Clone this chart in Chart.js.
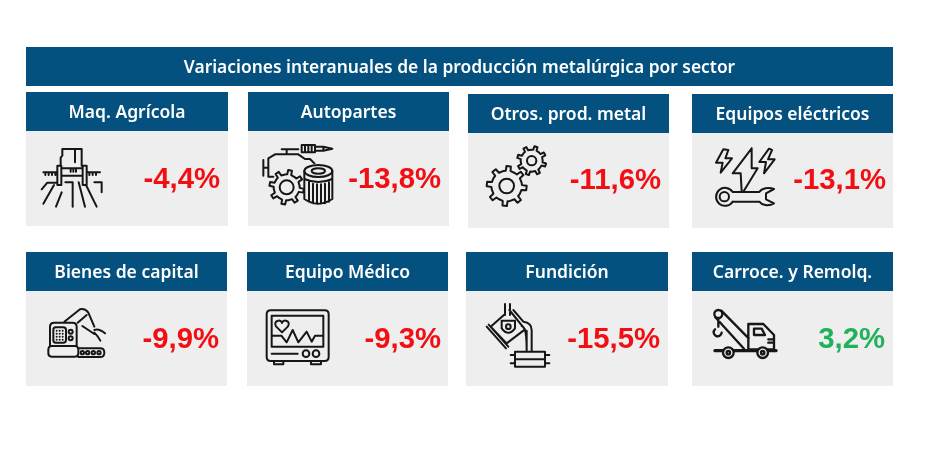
<!DOCTYPE html>
<html lang="es">
<head>
<meta charset="utf-8">
<title>Variaciones interanuales</title>
<style>
  html, body { margin: 0; padding: 0; background: #fff; }
  canvas { display: block; }
</style>
<script src="https://cdn.jsdelivr.net/npm/chart.js@4"></script>
</head>
<body>
<canvas id="chart" width="926" height="456" style="width:926px;height:456px"></canvas>
<script>
// Data
var chartTitle = 'Variaciones interanuales de la producción metalúrgica por sector';
var categories = ['Maq. Agrícola', 'Autopartes', 'Otros. prod. metal', 'Equipos eléctricos',
                  'Bienes de capital', 'Equipo Médico', 'Fundición', 'Carroce. y Remolq.'];
var variations = [-4.4, -13.8, -11.6, -13.1, -9.9, -9.3, -15.5, 3.2];

// Card layout, same order as categories: left, right, top, header bottom, body bottom
var cardBoxes = [
    [26, 228, 92, 131, 226], [248, 449, 92, 131, 226], [468, 669, 94, 133, 228], [692, 893, 94, 133, 228],
    [26, 227, 252, 291, 386], [247, 448, 252, 291, 386], [466, 668, 252, 291, 386], [692, 893, 252, 291, 386]
];
var valueRight = [220, 441, 661, 886, 219, 441, 660, 885];
var valueMiddle = [180, 180, 181, 181, 340, 340, 340, 340];

var NAVY = '#04507f';
var CARD = '#eeeeee';
var INK = '#161616';

function gear(ctx, cx, cy, outer, inner, hole, teeth, rot) {
    var step = Math.PI * 2 / teeth;
    ctx.beginPath();
    for (var i = 0; i < teeth; i++) {
        var a = rot + i * step;
        var w = step * 0.2;
        var pts = [[a - step / 2 + w * 0.4, inner], [a - w, inner], [a - w * 0.7, outer], [a + w * 0.7, outer], [a + w, inner]];
        pts.forEach(function (p, j) {
            var x = cx + Math.cos(p[0]) * p[1];
            var y = cy + Math.sin(p[0]) * p[1];
            if (i === 0 && j === 0) ctx.moveTo(x, y); else ctx.lineTo(x, y);
        });
    }
    ctx.closePath();
    ctx.stroke();
    ctx.beginPath();
    ctx.arc(cx, cy, hole, 0, Math.PI * 2);
    ctx.stroke();
}

function stroke(ctx, d) { ctx.stroke(new Path2D(d)); }
function ring(ctx, x, y, r) { ctx.beginPath(); ctx.arc(x, y, r, 0, Math.PI * 2); ctx.stroke(); }
function dot(ctx, x, y, r) { ctx.beginPath(); ctx.arc(x, y, r, 0, Math.PI * 2); ctx.fill(); }

// Icons are drawn in 3x zoomed units from the origin given in iconOrigins
var iconDraw = [
    function (ctx) { // tractor
        stroke(ctx, 'M97 42H155M135 42V82M155 42V92M97 42V62L92 68V92M82 92H94V150H82ZM158 92H170V150H158Z' +
            'M40 112H82M170 112H210M94 100H158M94 122H158M46 112V120M56 112V120M66 112V120M76 112V120' +
            'M178 112V120M188 112V120M198 112V120M122 100V110M130 100V110M138 100V110' +
            'M35 163L52 143H78M40 206L72 150M78 215L95 172M106 142H128V215M146 142L165 215M168 150L200 215M193 142H215V172');
    },
    function (ctx) { // engine, gear and filter
        stroke(ctx, 'M25 75V122M25 98H40M40 70V125H55M40 70L60 58H130L150 72H165L185 92M95 58V44M80 43H130');
        stroke(ctx, 'M140 30H180V52H140ZM150 30V52M160 30V52M170 30V52M180 35H205V47H180M205 35L232 41L205 47');
        gear(ctx, 95, 157, 52, 39, 21, 8, 0.2);
        ctx.save();
        ctx.fillStyle = CARD;
        ctx.beginPath(); ctx.ellipse(190, 150, 44, 66, 0, 0, Math.PI * 2); ctx.fill();
        ctx.restore();
        stroke(ctx, 'M148 108V192Q190 220 232 192V108M148 132Q190 150 232 132M162 142V200M174 146V205M186 148V207M198 148V207M210 146V205M222 142V200');
        ctx.beginPath(); ctx.ellipse(190, 108, 42, 18, 0, 0, Math.PI * 2); ctx.stroke();
        ctx.beginPath(); ctx.ellipse(190, 108, 20, 8, 0, 0, Math.PI * 2); ctx.stroke();
    },
    function (ctx) { // two gears, units from the 460,40 crop
        gear(ctx, 140, 438, 60, 46, 22, 8, 0.1);
        gear(ctx, 215, 362, 44, 33, 14, 8, 0.3);
    },
    function (ctx) { // bolts and wrench
        stroke(ctx, 'M70 28L48 68H68L62 98L96 55H76L85 30ZM207 26L178 66H198L192 100L224 58H204L216 30Z' +
            'M155 25L98 100H122L125 155M155 25V85H173L130 155');
        ring(ctx, 73, 170, 14);
        stroke(ctx, 'M98 156H178C185 145 205 140 222 147L198 160V178L222 190C205 200 185 195 178 185H98' +
            'M98 156A27 27 0 1 0 98 185');
    },
    function (ctx) { // robot arm on a conveyor
        stroke(ctx, 'M58 68H112Q125 68 125 80V138H45V80Q45 68 58 68ZM62 82H85Q93 82 93 90V120Q93 128 85 128H62Q55 128 55 120V90Q55 82 62 82Z' +
            'M50 138H120Q130 138 130 150V160Q130 170 120 170H50Q40 170 40 160V150Q40 138 50 138Z' +
            'M130 145H195Q208 145 208 158Q208 171 195 171H130' +
            'M88 65L135 28Q150 24 160 38L178 80M128 68L155 45M142 78L178 102M178 90Q192 85 210 100M178 98Q190 110 196 122');
        ring(ctx, 107, 95, 6); ring(ctx, 107, 115, 6);
        [142, 158, 175, 192].forEach(function (x) { ring(ctx, x, 158, 5); });
        [65, 74, 83].forEach(function (x) {
            [92, 101, 110, 119].forEach(function (y) { dot(ctx, x, y, 3); });
        });
    },
    function (ctx) { // monitor, units from the 20,245 crop
        stroke(ctx, 'M752 196H914Q926 196 926 208V336Q926 348 914 348H752Q740 348 740 336V208Q740 196 752 196Z' +
            'M755 212H910V305H755ZM755 272H784L800 292L818 255L835 292L860 260L875 290L885 272H910' +
            'M755 326H833M762 348V358H790V348M873 348V358H903V348' +
            'M786 262L768 244Q762 232 772 228Q782 224 786 234Q790 224 800 228Q810 232 804 244Z');
        ring(ctx, 858, 326, 10); ring(ctx, 888, 326, 10);
    },
    function (ctx) { // foundry ladle, units from the 480,300 crop
        stroke(ctx, 'M75 12V45M90 12V45M88 30L135 88L80 130L32 80L75 42M20 80L78 145M26 74L85 140' +
            'M65 62H105V85Q85 112 65 85ZM100 30L130 65Q155 68 155 90V155M140 92V155Q140 78 125 78' +
            'M105 155H195V200H105ZM105 178H195M92 165H105M92 190H105M195 165H208M195 190H208');
        ring(ctx, 85, 80, 7);
    },
    function (ctx) { // tow truck, units from the 700,300 crop
        ctx.lineWidth = 7;
        ring(ctx, 55, 42, 12);
        stroke(ctx, 'M64 32L146 115M46 52L132 146M55 55V80M65 98A12 12 0 1 1 45 88' +
            'M145 72H190L222 105V148H145ZM162 86H185L195 105H162ZM205 118H220M205 128H216');
        ctx.save();
        ctx.lineWidth = 10;
        stroke(ctx, 'M45 152H228');
        ctx.restore();
        [[85, 158], [188, 158]].forEach(function (w) {
            ctx.save();
            ctx.fillStyle = CARD;
            ctx.beginPath(); ctx.arc(w[0], w[1], 16, 0, Math.PI * 2); ctx.fill(); ctx.stroke();
            ctx.restore();
            ring(ctx, w[0], w[1], 5);
        });
    }
];
var iconOrigins = [[30, 135], [255, 135], [460, 40], [700, 140], [35, 300], [20, 245], [480, 300], [700, 300]];

var cardsPlugin = {
    id: 'cards',
    afterDatasetsDraw: function (chart) {
        var ctx = chart.ctx;
        ctx.save();
        ctx.textAlign = 'center';
        ctx.textBaseline = 'middle';

        ctx.fillStyle = NAVY;
        ctx.fillRect(26, 47, 867, 39);
        ctx.fillStyle = '#fff';
        ctx.font = '600 17.4px "Noto Sans"';
        ctx.fillText(chartTitle, 459.5, 68.5);

        chart.data.labels.forEach(function (label, i) {
            var box = cardBoxes[i];
            var mid = (box[0] + box[1]) / 2;
            ctx.fillStyle = CARD;
            ctx.fillRect(box[0], box[3], box[1] - box[0], box[4] - box[3]);
            ctx.fillStyle = NAVY;
            ctx.fillRect(box[0], box[2], box[1] - box[0], box[3] - box[2]);
            ctx.fillStyle = '#fff';
            ctx.font = '600 17.5px "Noto Sans"';
            ctx.fillText(label, mid, (box[2] + box[3]) / 2 + 1.5);

            var v = chart.data.datasets[0].data[i];
            ctx.save();
            ctx.textAlign = 'right';
            ctx.fillStyle = v < 0 ? '#f20f14' : '#1fb25a';
            ctx.font = 'bold 29.3px "Liberation Sans"';
            ctx.fillText(v.toFixed(1).replace('.', ',') + '%', valueRight[i], valueMiddle[i]);
            ctx.restore();

            ctx.save();
            ctx.filter = 'blur(0.4px)';
            ctx.translate(iconOrigins[i][0], iconOrigins[i][1]);
            ctx.scale(1 / 3, 1 / 3);
            ctx.strokeStyle = INK;
            ctx.fillStyle = INK;
            ctx.lineWidth = 6;
            ctx.lineJoin = 'round';
            ctx.lineCap = 'round';
            iconDraw[i](ctx);
            ctx.restore();
        });
        ctx.restore();
    }
};

new Chart(document.getElementById('chart'), {
    type: 'bar',
    data: {
        labels: categories,
        datasets: [{
            label: 'Variación interanual (%)',
            data: variations,
            backgroundColor: 'rgba(0,0,0,0)'
        }]
    },
    options: {
        responsive: false,
        animation: false,
        plugins: { legend: { display: false }, tooltip: { enabled: false } },
        scales: { x: { display: false }, y: { display: false } }
    },
    plugins: [cardsPlugin]
});
</script>
</body>
</html>
